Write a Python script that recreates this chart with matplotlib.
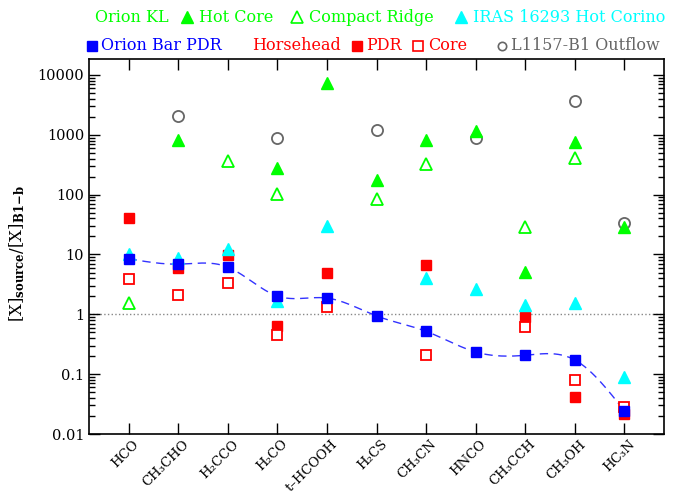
import numpy as np
import matplotlib
matplotlib.use("Agg")
import matplotlib.pyplot as plt
import matplotlib.transforms as mtrans
from matplotlib.lines import Line2D

plt.rcParams['font.family'] = ['DejaVu Serif', 'DejaVu Sans']
plt.rcParams['mathtext.fontset'] = 'dejavuserif'

# molecules along the x axis
molecules = ['HCO', 'CH\u2083CHO', 'H\u2082CCO', 'H\u2082CO', 't\u2013HCOOH', 'H\u2082CS',
             'CH\u2083CN', 'HNCO', 'CH\u2083CCH', 'CH\u2083OH', 'HC\u2083N']
nan = np.nan

# abundance ratios [X]source / [X]B1-b
hot_core = [nan, 826, nan, 278, 7430, 173, 805, 1180, 5.1, 755, 28.5]
compact_ridge = [1.57, nan, 359, 101, nan, 86, 325, nan, 28.5, 414, nan]
iras_corino = [10, 8.8, 12.4, 1.67, 29.6, nan, 4.1, 2.6, 1.41, 1.56, 0.090]
orion_bar = [8.5, 6.9, 6.15, 2.02, 1.87, 0.94, 0.52, 0.235, 0.207, 0.173, 0.0245]
hh_pdr = [41, 6.0, 9.7, 0.64, 4.9, nan, 6.6, nan, 0.91, 0.042, 0.0216]
hh_core = [3.93, 2.07, 3.37, 0.46, 1.34, nan, 0.213, nan, 0.62, 0.079, 0.0278]
l1157 = [nan, 2070, nan, 870, nan, 1212, nan, 870, nan, 3730, 33.8]

GREEN = '#00ff00'
CYAN = '#00ffff'
BLUE = '#0000ff'
RED = '#ff0000'
GREY = '#666666'


def natural_spline(x, y, xs):
    # natural cubic spline through (x, y), evaluated at xs
    n = len(x)
    h = np.diff(x)
    A = np.zeros((n, n))
    b = np.zeros(n)
    A[0, 0] = A[-1, -1] = 1
    for i in range(1, n - 1):
        A[i, i - 1] = h[i - 1]
        A[i, i] = 2 * (h[i - 1] + h[i])
        A[i, i + 1] = h[i]
        b[i] = 3 * ((y[i + 1] - y[i]) / h[i] - (y[i] - y[i - 1]) / h[i - 1])
    c = np.linalg.solve(A, b)
    bb = (y[1:] - y[:-1]) / h - h * (2 * c[:-1] + c[1:]) / 3
    d = (c[1:] - c[:-1]) / (3 * h)
    idx = np.clip(np.searchsorted(x, xs) - 1, 0, n - 2)
    t = xs - x[idx]
    return y[idx] + bb[idx] * t + c[idx] * t ** 2 + d[idx] * t ** 3


x = np.arange(1, len(molecules) + 1)

fig = plt.figure(figsize=(6.78, 4.92), dpi=100)
ax = fig.add_axes([89 / 678, 1 - 434 / 492, 575 / 678, 375 / 492])

# smooth dashed curve through the Orion Bar points (in log space)
xs = np.linspace(1, len(molecules), 400)
ys = 10 ** natural_spline(x.astype(float), np.log10(orion_bar), xs)
ax.plot(xs, ys, '--', color='#3333ff', lw=1.0, dashes=(6, 4), zorder=2)

ax.axhline(1, color='#888888', ls=':', lw=1.0, zorder=1)

ms_sq = 7.5
ms_tri = 8.5
ax.plot(x, hh_pdr, 's', color=RED, ms=ms_sq, mec=RED, zorder=3)
ax.plot(x, hh_core, 's', mfc='white', mec=RED, mew=1.3, ms=ms_sq, zorder=3)
ax.plot(x, l1157, 'o', mfc='none', mec=GREY, mew=1.3, ms=8, zorder=3)
ax.plot(x, hot_core, '^', color=GREEN, ms=ms_tri, zorder=4)
ax.plot(x, compact_ridge, '^', mfc='white', mec=GREEN, mew=1.3, ms=ms_tri, zorder=4)
ax.plot(x, iras_corino, '^', color=CYAN, ms=ms_tri, zorder=4)
ax.plot(x, orion_bar, 's', color=BLUE, ms=ms_sq, zorder=5)

ax.set_yscale('log')
ax.set_ylim(0.01, 18500)
ax.set_xlim(0.2, 11.8)
ax.set_yticks([0.01, 0.1, 1, 10, 100, 1000, 10000])
ax.set_yticklabels(['0.01', '0.1', '1', '10', '100', '1000', '10000'], fontsize=10.5)
ax.set_xticks(x)
ax.set_xticklabels([])
# rotated molecule names, baseline ending just right of / below each tick
offset = mtrans.ScaledTranslation(0.11, -0.105, fig.dpi_scale_trans)
for xi, name in zip(x, molecules):
    ax.text(xi, 0, name, transform=ax.get_xaxis_transform() + offset,
            rotation=45, ha='right', va='baseline', rotation_mode='anchor',
            fontsize=9.5)
ax.tick_params(which='both', direction='in', top=True, right=True, width=1)
ax.tick_params(which='major', length=8)
ax.tick_params(which='minor', length=4)
ax.tick_params(axis='x', which='minor', bottom=False, top=False)
for sp in ax.spines.values():
    sp.set_linewidth(1.2)

ax.set_ylabel(r'[X]$_{\mathbf{source}}$/[X]$_{\mathbf{B1\!-\!b}}$', fontsize=12)
ax.yaxis.set_label_coords(-0.108, 0.483)

# legend drawn in figure pixel positions
W, H = 678, 492


def ftext(px, py, s, color):
    fig.text(px / W, 1 - py / H, s, color=color, fontsize=11.5, va='center', ha='left')


def fmark(px, py, marker, color, filled=True, ms=8):
    if filled:
        ln = Line2D([px / W], [1 - py / H], marker=marker, color=color, ms=ms,
                    transform=fig.transFigure)
    else:
        ln = Line2D([px / W], [1 - py / H], marker=marker, mfc='white', mec=color,
                    mew=1.2, ms=ms, transform=fig.transFigure)
    fig.add_artist(ln)


ftext(95, 17, 'Orion KL', GREEN)
fmark(187, 17, '^', GREEN)
ftext(199, 17, 'Hot Core', GREEN)
fmark(297, 17, '^', GREEN, filled=False)
ftext(309, 17, 'Compact Ridge', GREEN)
fmark(461, 17, '^', CYAN)
ftext(473, 17, 'IRAS 16293 Hot Corino', CYAN)

fmark(92, 46, 's', BLUE, ms=7)
ftext(101, 46, 'Orion Bar PDR', BLUE)
ftext(252, 46, 'Horsehead', RED)
fmark(357, 46, 's', RED, ms=7)
ftext(366, 46, 'PDR', RED)
fmark(418, 46, 's', RED, filled=False, ms=7)
ftext(428, 46, 'Core', RED)
fmark(502, 46, 'o', GREY, filled=False, ms=6)
ftext(511, 46, 'L1157-B1 Outflow', GREY)

fig.savefig('out.png', dpi=100)
